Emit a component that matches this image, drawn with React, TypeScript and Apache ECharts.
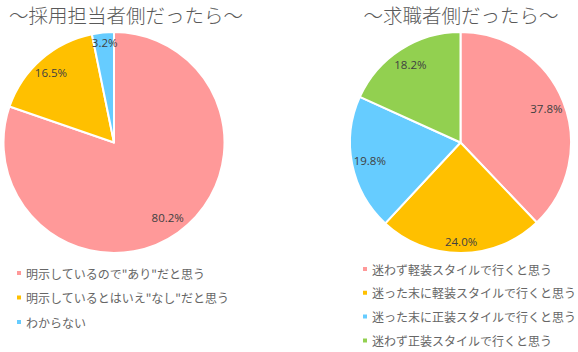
import React, { useEffect, useRef } from "react";
import * as echarts from "echarts";

const leftTitle = "～採用担当者側だったら～";
const rightTitle = "～求職者側だったら～";
const leftNames = ["明示しているので\"あり\"だと思う", "明示しているとはいえ\"なし\"だと思う", "わからない"];
const leftValues = [80.2, 16.5, 3.2];
const leftColors = ["#FF9999", "#FFC000", "#66CCFF"];
const rightNames = [
  "迷わず軽装スタイルで行くと思う",
  "迷った末に軽装スタイルで行くと思う",
  "迷った末に正装スタイルで行くと思う",
  "迷わず正装スタイルで行くと思う",
];
const rightValues = [37.8, 24.0, 19.8, 18.2];
const rightColors = ["#FF9999", "#FFC000", "#66CCFF", "#92D050"];

const FONT = "'Noto Sans CJK JP', 'Noto Sans', sans-serif";

export default function App() {
  const ref = useRef<HTMLDivElement>(null);
  useEffect(() => {
    if (!ref.current) return;
    const chart = echarts.init(ref.current, null, { renderer: "svg" });
    const R = 110.5;
    const mkMain = (names: string[], vals: number[], colors: string[], cx: number) => ({
      type: "pie",
      center: [cx, 142.5],
      radius: [0, R],
      startAngle: 90,
      clockwise: true,
      silent: true,
      label: { show: false },
      labelLine: { show: false },
      itemStyle: { borderColor: "#fff", borderWidth: 2 },
      data: names.map((n, i) => ({ name: n, value: vals[i], itemStyle: { color: colors[i] } })),
    });
    const mkLabels = (names: string[], vals: number[], cx: number, offsets: number[][]) => ({
      type: "pie",
      center: [cx, 142.5],
      radius: [R * 0.62, R],
      startAngle: 90,
      clockwise: true,
      silent: true,
      legendHoverLink: false,
      itemStyle: { color: "rgba(0,0,0,0)", borderWidth: 0 },
      labelLine: { show: false },
      data: names.map((n, i) => ({
        name: n + " ",
        value: vals[i],
        label: {
          show: true,
          position: "inside",
          formatter: vals[i].toFixed(1) + "%",
          color: "#404040",
          fontSize: 11.5,
          fontFamily: "'Open Sans', sans-serif",
          offset: offsets[i],
        },
      })),
    });
    const legendText = { fontSize: 12, color: "#666666", fontFamily: FONT, lineHeight: 14, padding: [0, 0, 0, -1] };
    chart.setOption({
      animation: false,
      title: [
        {
          text: leftTitle,
          left: 121,
          top: 0,
          textAlign: "center",
          textStyle: { fontSize: 19.5, fontWeight: 300, color: "#595959", fontFamily: FONT },
        },
        {
          text: rightTitle,
          left: 456,
          top: 0,
          textAlign: "center",
          textStyle: { fontSize: 19.5, fontWeight: 300, color: "#595959", fontFamily: FONT },
        },
      ],
      legend: [
        {
          data: leftNames,
          orient: "vertical",
          left: 15,
          top: 266,
          padding: 0,
          itemWidth: 6,
          itemHeight: 6,
          itemGap: 10.5,
          icon: "rect",
          selectedMode: false,
          textStyle: legendText,
        },
        {
          data: rightNames,
          orient: "vertical",
          left: 361,
          top: 262,
          padding: 0,
          height: 90,
          itemWidth: 6,
          itemHeight: 6,
          itemGap: 9.8,
          icon: "rect",
          selectedMode: false,
          textStyle: legendText,
        },
      ],
      series: [
        mkMain(leftNames, leftValues, leftColors, 114),
        mkMain(rightNames, rightValues, rightColors, 460.5),
        mkLabels(leftNames, leftValues, 114, [[0, 0], [-2, 0], [0, -8]]),
        mkLabels(rightNames, rightValues, 460.5, [[0, 0], [0, 6], [0, 0], [0, 0]]),
      ],
    });
    return () => chart.dispose();
  }, []);
  return <div ref={ref} style={{ width: 578, height: 352, position: "absolute", left: 0, top: 0 }} />;
}
